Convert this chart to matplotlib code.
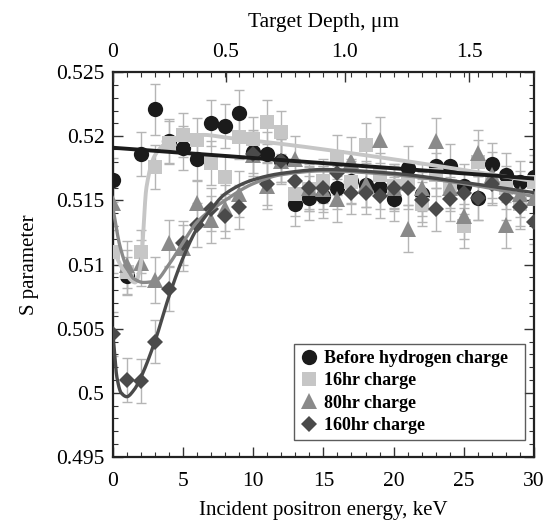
import numpy as np
import matplotlib
matplotlib.use("Agg")
import matplotlib.pyplot as plt
from matplotlib.ticker import MultipleLocator

plt.rcParams['font.family'] = ['Liberation Serif', 'DejaVu Serif']
plt.rcParams['mathtext.fontset'] = 'stix'

# ---------------- data ----------------
energy = np.arange(0, 31)  # keV

s_before = [0.5166, 0.5091, 0.5186, 0.5221, 0.5196, 0.5191, 0.5182, 0.5210, 0.5208, 0.5218,
            0.5188, 0.5186, 0.5181, 0.5147, 0.5152, 0.5153, 0.5160, 0.5165, 0.5162, 0.5160,
            0.5151, 0.5175, 0.5155, 0.5177, 0.5177, 0.5161, 0.5152, 0.5178, 0.5170, 0.5164, 0.5168]
err_before = [0.0017, 0.0015, 0.0017, 0.0020, 0.0017, 0.0017, 0.0017, 0.0018, 0.0017, 0.0018,
              0.0017, 0.0017, 0.0017, 0.0017, 0.0017, 0.0017, 0.0017, 0.0017, 0.0017, 0.0017,
              0.0017, 0.0017, 0.0017, 0.0017, 0.0017, 0.0017, 0.0017, 0.0017, 0.0017, 0.0017, 0.0017]

s_16hr = [0.5110, 0.5094, 0.5110, 0.5176, 0.5195, 0.5201, 0.5197, 0.5179, 0.5168, 0.5199,
          0.5198, 0.5211, 0.5203, 0.5155, 0.5159, 0.5165, 0.5184, 0.5164, 0.5193, 0.5170,
          0.5161, 0.5163, 0.5147, 0.5170, 0.5161, 0.5130, 0.5180, 0.5165, 0.5160, 0.5147, 0.5164]
err_16hr = [0.0017] * 31

s_80hr = [0.5148, 0.5100, 0.5101, 0.5088, 0.5117, 0.5113, 0.5148, 0.5135, 0.5144, 0.5155,
          0.5185, 0.5161, 0.5181, 0.5182, 0.5160, 0.5159, 0.5151, 0.5181, 0.5163, 0.5197,
          0.5160, 0.5128, 0.5160, 0.5196, 0.5160, 0.5138, 0.5187, 0.5170, 0.5131, 0.5155, 0.5152]
err_80hr = [0.0018] * 31

s_160hr = [0.5046, 0.5010, 0.5009, 0.5040, 0.5081, 0.5117, 0.5131, 0.5143, 0.5138, 0.5145,
           0.5186, 0.5163, 0.5181, 0.5165, 0.5160, 0.5160, 0.5171, 0.5156, 0.5156, 0.5153,
           0.5160, 0.5160, 0.5150, 0.5143, 0.5151, 0.5156, 0.5152, 0.5163, 0.5152, 0.5145, 0.5133]
err_160hr = [0.0017] * 31

# fitted curves (control points)
fit_before_E = [0, 30]
fit_before_S = [0.5191, 0.5167]
fit_16_E = [0, 0.8, 1.6, 2.0, 2.4, 3.0, 4.0, 5.0, 6.5, 8, 12, 20, 30]
fit_16_S = [0.5112, 0.5095, 0.5086, 0.5100, 0.5160, 0.5185, 0.5196, 0.5200, 0.5201, 0.5199, 0.5194, 0.5182, 0.5165]
fit_80_E = [0, 0.5, 1.0, 1.5, 2.2, 3.0, 4.0, 5.0, 6.0, 8, 10, 12, 15, 20, 25, 30]
fit_80_S = [0.5145, 0.5115, 0.5098, 0.5089, 0.5086, 0.5087, 0.5100, 0.5117, 0.5133, 0.5150, 0.5163, 0.5170, 0.5173, 0.5170, 0.5163, 0.5153]
fit_160_E = [0, 0.3, 0.6, 1.0, 1.5, 2.0, 3.0, 4.0, 5.0, 6.0, 7, 8, 10, 12, 15, 20, 25, 30]
fit_160_S = [0.5048, 0.5012, 0.5000, 0.4997, 0.5002, 0.5012, 0.5040, 0.5075, 0.5105, 0.5128, 0.5143, 0.5155, 0.5166, 0.5171, 0.5174, 0.5171, 0.5164, 0.5156]

depth_labels = ['0', '0.5', '1.0', '1.5']
depth_label_energy = [0, 8.06, 16.54, 25.4]
legend_labels = ['Before hydrogen charge', '16hr charge', '80hr charge', '160hr charge']


def pchip(xk, yk, x):
    xk = np.asarray(xk, float); yk = np.asarray(yk, float)
    if len(xk) == 2:
        return np.interp(x, xk, yk)
    h = np.diff(xk); d = np.diff(yk) / h
    m = np.zeros_like(yk)
    for i in range(1, len(xk) - 1):
        if d[i - 1] * d[i] > 0:
            w1 = 2 * h[i] + h[i - 1]; w2 = h[i] + 2 * h[i - 1]
            m[i] = (w1 + w2) / (w1 / d[i - 1] + w2 / d[i])
    m[0] = d[0]; m[-1] = d[-1]
    idx = np.clip(np.searchsorted(xk, x) - 1, 0, len(xk) - 2)
    t = (x - xk[idx]) / h[idx]
    h00 = 2 * t**3 - 3 * t**2 + 1; h10 = t**3 - 2 * t**2 + t
    h01 = -2 * t**3 + 3 * t**2; h11 = t**3 - t**2
    return h00 * yk[idx] + h10 * h[idx] * m[idx] + h01 * yk[idx + 1] + h11 * h[idx] * m[idx + 1]


fig = plt.figure(figsize=(5.48, 5.23), dpi=100)
ax = fig.add_axes([0.2057, 0.1262, 0.7688, 0.7361])

c_before = '#1b1b1b'
c_16 = '#c6c6c6'
c_80 = '#8a8a8a'
c_160 = '#4a4a4a'
c_err = '#b5b5b5'

series = [
    (s_before, err_before, 'o', c_before, 11),
    (s_16hr, err_16hr, 's', c_16, 10),
    (s_80hr, err_80hr, '^', c_80, 11),
    (s_160hr, err_160hr, 'D', c_160, 8),
]
for i, (s, e, mk, col, ms) in enumerate(series):
    ax.errorbar(energy, s, yerr=e, fmt='none', ecolor=c_err, elinewidth=1.0,
                capsize=3.5, capthick=1.0, zorder=2)
handles = []
for i, (s, e, mk, col, ms) in enumerate(series):
    h, = ax.plot(energy, s, linestyle='none', marker=mk, color=col, markersize=ms,
                 markeredgewidth=0, zorder=3 + i, label=legend_labels[i])
    handles.append(h)

xs = np.linspace(0, 30, 600)
ax.plot(xs, pchip(fit_16_E, fit_16_S, xs), color=c_16, lw=2.8, zorder=8)
ax.plot(xs, pchip(fit_80_E, fit_80_S, xs), color=c_80, lw=2.4, zorder=8)
ax.plot(xs, pchip(fit_160_E, fit_160_S, xs), color=c_160, lw=2.4, zorder=8)
ax.plot(xs, pchip(fit_before_E, fit_before_S, xs), color=c_before, lw=2.8, zorder=9)

ax.set_xlim(0, 30)
ax.set_ylim(0.495, 0.525)
ax.xaxis.set_major_locator(MultipleLocator(5))
ax.xaxis.set_minor_locator(MultipleLocator(1))
ax.yaxis.set_minor_locator(MultipleLocator(0.001))
ax.set_yticks([0.495, 0.5, 0.505, 0.51, 0.515, 0.52, 0.525])
ax.set_yticklabels(['0.495', '0.5', '0.505', '0.51', '0.515', '0.52', '0.525'])
ax.tick_params(which='both', direction='in', top=False, right=True, labelsize=15.5, color='#333333')
ax.tick_params(which='major', length=7, width=1.0)
ax.tick_params(axis='x', which='major', pad=11)
ax.tick_params(axis='y', which='major', pad=6)
ax.tick_params(which='minor', length=3.5, width=0.8)
for sp in ax.spines.values():
    sp.set_linewidth(1.6)
    sp.set_color('#222222')

ax.set_xlabel('Incident positron energy, keV', fontsize=15, labelpad=7)
ax.set_ylabel('S parameter', fontsize=15, labelpad=12)

top = ax.twiny()
top.set_xlim(0, 30)
top.set_xticks(depth_label_energy)
top.set_xticklabels(depth_labels)
top.xaxis.set_minor_locator(MultipleLocator(1))
top.tick_params(which='both', direction='in', labelsize=15.5, color='#333333')
top.tick_params(which='major', length=7, width=1.0, pad=7)
top.tick_params(which='minor', length=3.5, width=0.8)
top.set_xlabel('Target Depth, μm', fontsize=15.5, labelpad=12)
for sp in top.spines.values():
    sp.set_visible(False)

leg = ax.legend(handles=handles, loc='lower left', bbox_to_anchor=(0.43, 0.043, 0.549, 0.248),
                mode='expand', frameon=True, fancybox=False, edgecolor='#333333',
                prop={'family': 'Liberation Serif', 'weight': 'bold', 'size': 13},
                handletextpad=0.3, borderpad=0.35, labelspacing=0.3, handlelength=1.0,
                borderaxespad=0)
leg.get_frame().set_linewidth(1.0)
leg.set_zorder(20)

fig.savefig('out.png', dpi=100)
